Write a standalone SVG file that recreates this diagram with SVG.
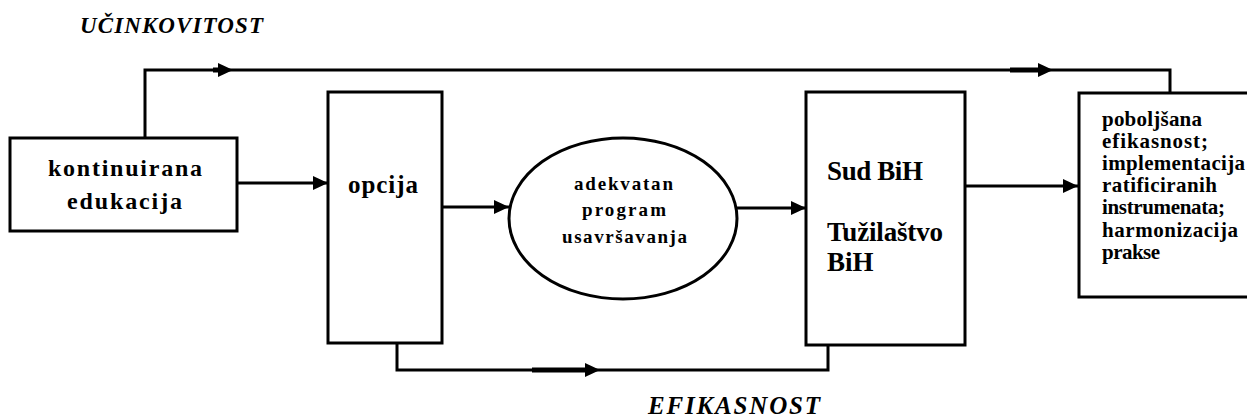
<svg xmlns="http://www.w3.org/2000/svg" width="1247" height="418" viewBox="0 0 1247 418">
<style>
.box{fill:#fff;stroke:#000;stroke-width:3}
.ln{fill:none;stroke:#000;stroke-width:3}
.thick{fill:none;stroke:#000;stroke-width:5}
.t{font-family:"Liberation Serif","Times New Roman",serif;font-weight:bold;fill:#000}
.ti{font-family:"Liberation Serif","Times New Roman",serif;font-weight:bold;font-style:italic;fill:#000}
</style>
<defs>
<marker id="ah" markerUnits="userSpaceOnUse" markerWidth="16" markerHeight="14" refX="15" refY="7" orient="auto">
<path d="M0,0 L15,7 L0,14 z" fill="#000"/>
</marker>
</defs>
<rect width="1247" height="418" fill="#fff"/>
<text class="ti" x="80" y="33" font-size="23" textLength="183" lengthAdjust="spacing">UČINKOVITOST</text>
<text class="ti" x="648" y="414" font-size="25" textLength="172" lengthAdjust="spacing">EFIKASNOST</text>
<g id="connectors">
<path class="ln" d="M145,138 V70 H233" marker-end="url(#ah)"/>
<path class="thick" d="M213,70 H222"/>
<path class="ln" d="M233,70 H1053" marker-end="url(#ah)"/>
<path class="thick" d="M1010,70 H1043"/>
<path class="ln" d="M1053,70 H1170 V93"/>
<path class="ln" d="M397,343 V370 H600" marker-end="url(#ah)"/>
<path class="thick" d="M532,370 H588"/>
<path class="ln" d="M600,370 H828 V345"/>
<path class="ln" d="M237,183 H328" marker-end="url(#ah)"/>
<path class="ln" d="M442,207 H509" marker-end="url(#ah)"/>
<path class="ln" d="M737,208 H806" marker-end="url(#ah)"/>
<path class="ln" d="M965,186 H1078" marker-end="url(#ah)"/>
</g>
<g id="kontinuirana">
<rect class="box" x="10" y="138" width="227" height="93"/>
<text class="t" x="48" y="176" font-size="24" textLength="154" lengthAdjust="spacing">kontinuirana</text>
<text class="t" x="67" y="209" font-size="24" textLength="115" lengthAdjust="spacing">edukacija</text>
</g>
<g id="opcija">
<rect class="box" x="328" y="92" width="114" height="251"/>
<text class="t" x="348" y="193" font-size="25" textLength="70" lengthAdjust="spacing">opcija</text>
</g>
<g id="program">
<ellipse class="box" cx="623" cy="218.5" rx="114" ry="80.5"/>
<text class="t" x="574" y="190" font-size="19" textLength="99" lengthAdjust="spacing">adekvatan</text>
<text class="t" x="582" y="216" font-size="19" textLength="84" lengthAdjust="spacing">program</text>
<text class="t" x="562" y="243" font-size="19" textLength="125" lengthAdjust="spacing">usavršavanja</text>
</g>
<g id="sud">
<rect class="box" x="806" y="92" width="159" height="253"/>
<text class="t" x="827" y="180" font-size="27" textLength="96" lengthAdjust="spacing">Sud BiH</text>
<text class="t" x="827" y="241" font-size="27" textLength="116" lengthAdjust="spacing">Tužilaštvo</text>
<text class="t" x="827" y="271" font-size="27">BiH</text>
</g>
<g id="rezultat">
<rect class="box" x="1079" y="93" width="200" height="204"/>
<text class="t" x="1102" y="126" font-size="21" textLength="100" lengthAdjust="spacing">poboljšana</text>
<text class="t" x="1102" y="148" font-size="21" textLength="106" lengthAdjust="spacing">efikasnost;</text>
<text class="t" x="1102" y="170" font-size="21" textLength="143" lengthAdjust="spacing">implementacija</text>
<text class="t" x="1102" y="192" font-size="21" textLength="115" lengthAdjust="spacing">ratificiranih</text>
<text class="t" x="1102" y="214" font-size="21" textLength="123" lengthAdjust="spacing">instrumenata;</text>
<text class="t" x="1102" y="237" font-size="21" textLength="136" lengthAdjust="spacing">harmonizacija</text>
<text class="t" x="1102" y="259" font-size="21" textLength="58" lengthAdjust="spacing">prakse</text>
</g>
</svg>
